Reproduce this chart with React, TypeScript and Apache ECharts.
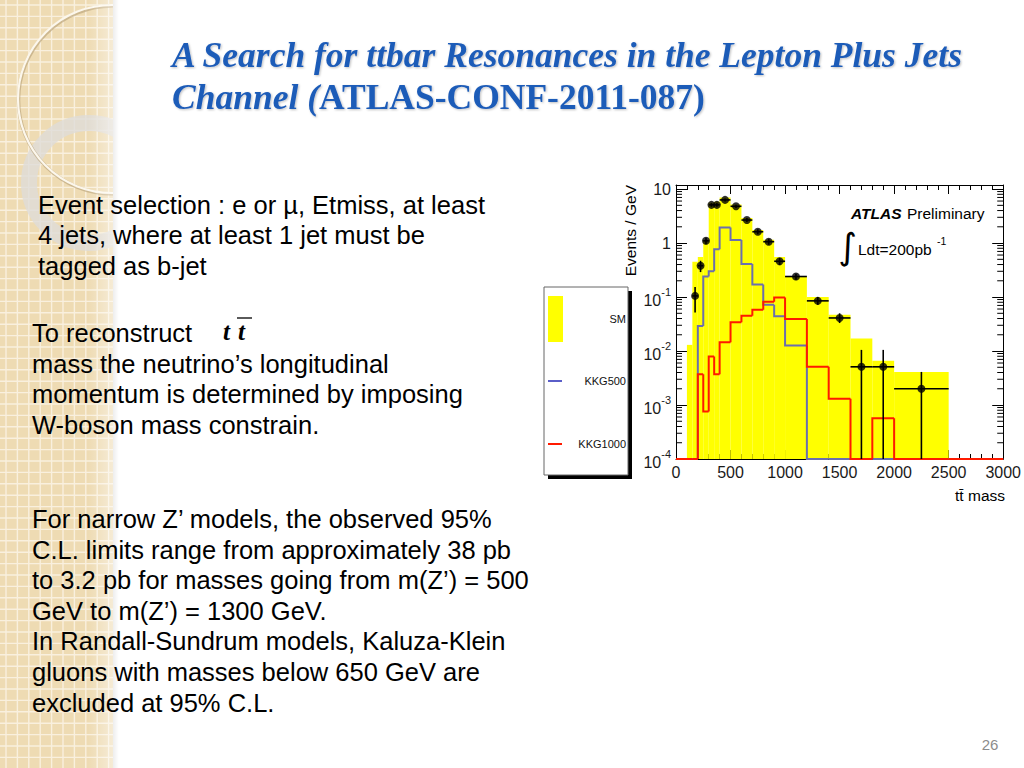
import React, { useEffect, useRef } from "react";
import * as echarts from "echarts";

// ---------------- data ----------------
const binEdges = [0, 100, 150, 200, 250, 300, 350, 400, 500, 600, 700, 800, 900, 1000, 1200, 1400, 1600, 1800, 2000, 2500, 3000];
const smValues = [0, 0.013, 0.45, 0.55, 1.15, 5.6, 5.8, 7.0, 5.2, 2.9, 1.75, 1.15, 0.55, 0.24, 0.1, 0.047, 0.017, 0.0066, 0.0041, 0];
const kkg500Values = [0, 0, 0, 0.029, 0.24, 0.3, 0.77, 1.95, 1.14, 0.41, 0.17, 0.072, 0.044, 0.0126, 0, 0, 0, 0, 0, 0];
const kkg1000Values = [0, 0, 0, 0.0037, 0.00076, 0.0079, 0.0037, 0.0145, 0.034, 0.045, 0.058, 0.082, 0.098, 0.039, 0.0051, 0.0013, 0, 0.00057, 0, 0];

const dataMass = [175, 225, 275, 325, 375, 450, 550, 650, 750, 850, 950, 1100, 1300, 1500, 1700, 1900, 2250];
const dataBinLow = [150, 200, 250, 300, 350, 400, 500, 600, 700, 800, 900, 1000, 1200, 1400, 1600, 1800, 2000];
const dataBinHigh = [200, 250, 300, 350, 400, 500, 600, 700, 800, 900, 1000, 1200, 1400, 1600, 1800, 2000, 2500];
const dataValues = [0.105, 0.38, 1.1, 5.1, 5.1, 6.3, 4.8, 2.67, 1.62, 1.06, 0.46, 0.24, 0.085, 0.041, 0.0051, 0.0051, 0.002];
const dataErrLow = [0.052, 0.29, 0.95, 4.7, 4.7, 5.9, 4.45, 2.45, 1.45, 0.93, 0.39, 0.21, 0.072, 0.033, 0, 0, 0];
const dataErrHigh = [0.153, 0.47, 1.25, 5.5, 5.5, 6.7, 5.15, 2.9, 1.8, 1.2, 0.53, 0.27, 0.1, 0.05, 0.0105, 0.0105, 0.0041];

const xMin = 0;
const xMax = 3000;
const xInterval = 500;
const yMin = 1e-4;
const yMax = 11.9;
const yDecades = [1e-4, 1e-3, 1e-2, 1e-1, 1];
const minorMultipliers = [2, 3, 4, 5, 6, 7, 8, 9];

const legendNames = ["SM", "KKG500", "KKG1000"];

const titleLine1 = "A Search for ttbar Resonances in the Lepton Plus Jets";
const titleLine2a = "Channel (";
const titleLine2b = "ATLAS-CONF-2011-087)";

const block1 = [
  "Event selection : e or µ, Etmiss, at least",
  "4 jets, where at least 1 jet must be",
  "tagged as b-jet",
];
const block2 = [
  "To reconstruct",
  "mass the neutrino’s longitudinal",
  "momentum is determined by imposing",
  "W-boson mass constrain.",
];
const block3 = [
  "For narrow Z’ models, the observed 95%",
  "C.L. limits range from approximately 38 pb",
  "to 3.2 pb for masses going from m(Z’) = 500",
  "GeV to m(Z’) = 1300 GeV.",
  "In Randall-Sundrum models, Kaluza-Klein",
  "gluons with masses below 650 GeV are",
  "excluded at 95% C.L.",
];

// ---------------- styling ----------------
const SANS = "Liberation Sans";
const SERIF = "Liberation Serif";
const YELLOW = "#ffff00";
const BLUE = "#6b6fae";
const RED = "#ff1a00";
const TITLE_BLUE = "#1f5cb8";

function stepData(values: number[]) {
  return values.map((v, i) => [
    binEdges[i],
    binEdges[i + 1],
    Math.max(v, yMin),
    Math.max(i > 0 ? values[i - 1] : 0, yMin),
  ]);
}

function stepSeries(name: string, values: number[], color: string, z: number) {
  return {
    name,
    type: "custom",
    clip: false,
    z,
    silent: true,
    dimensions: ["x0", "x1", "v", "pv"],
    encode: { x: [0, 1], y: [2, 3] },
    data: stepData(values),
    renderItem: (_p: any, api: any) => {
      const x0 = api.value(0);
      const x1 = api.value(1);
      const v = api.value(2);
      const pv = api.value(3);
      const a = api.coord([x0, pv]);
      const b = api.coord([x0, v]);
      const c = api.coord([x1, v]);
      return {
        type: "polyline",
        shape: { points: [a, b, c] },
        style: { stroke: color, lineWidth: 2, fill: null },
      };
    },
  };
}

function yLabel(v: number) {
  const lg = Math.log10(v);
  const e = Math.round(lg);
  if (Math.abs(lg - e) > 1e-6) return "";
  if (e === 0) return "1";
  if (e === 1) return "10";
  return "{b|10}{s|" + e + "}";
}

function buildOption() {
  const minorTicks: number[][] = [];
  yDecades.forEach((d) => minorMultipliers.forEach((m) => minorTicks.push([0, m * d])));

  const axisText = { fontSize: 16, color: "#1a1a1a", fontFamily: SANS };

  const text = (t: string, x: number, y: number, extra: any = {}) => ({
    type: "text",
    x,
    y,
    style: {
      text: t,
      fill: "#000",
      font: `25.5px "${SANS}"`,
      textAlign: "left",
      textVerticalAlign: "middle",
      ...extra,
    },
  });

  const shadow = { textShadowColor: "rgba(0,0,0,0.25)", textShadowBlur: 2, textShadowOffsetX: 1, textShadowOffsetY: 1 };

  const graphics: any[] = [];
  // Title
  graphics.push({
    type: "text",
    x: 172,
    y: 55,
    style: {
      text: titleLine1,
      fill: TITLE_BLUE,
      font: `italic bold 35.5px "${SERIF}"`,
      textVerticalAlign: "middle",
      ...shadow,
    },
  });
  graphics.push({
    type: "text",
    x: 172,
    y: 97,
    style: {
      text: `{i|${titleLine2a}}{b|${titleLine2b}}`,
      fill: TITLE_BLUE,
      textVerticalAlign: "middle",
      rich: {
        i: { font: `italic bold 35.5px "${SERIF}"`, fill: TITLE_BLUE, ...shadow },
        b: { font: `bold 35.5px "${SERIF}"`, fill: TITLE_BLUE, ...shadow },
      },
    },
  });
  // body text
  const b1y = [205, 235, 266];
  block1.forEach((t, i) => graphics.push(text(t, 38, b1y[i])));
  const b2y = [333, 364, 394, 425];
  block2.forEach((t, i) => graphics.push(text(t, 32, b2y[i])));
  const b3y = [519, 550, 580, 611, 641, 672, 703];
  block3.forEach((t, i) => graphics.push(text(t, 32, b3y[i])));
  // t tbar formula
  graphics.push(text("t", 223, 331, { font: `italic bold 25px "${SERIF}"` }));
  graphics.push(text("t", 238, 331, { font: `italic bold 25px "${SERIF}"` }));
  graphics.push({ type: "line", shape: { x1: 237, y1: 318, x2: 252, y2: 318 }, style: { stroke: "#000", lineWidth: 1.3 } });
  // page number
  graphics.push(text("26", 990, 744, { fill: "#8c8c8c", font: `15px "${SANS}"`, textAlign: "center" }));

  // legend box (ROOT style)
  graphics.push({ type: "rect", shape: { x: 548, y: 291, width: 84, height: 188 }, style: { fill: "#000" } });
  graphics.push({ type: "rect", shape: { x: 544, y: 287, width: 84, height: 188 }, style: { fill: "#fff", stroke: "#666", lineWidth: 1 } });
  graphics.push({ type: "rect", shape: { x: 548, y: 296, width: 15, height: 46 }, style: { fill: YELLOW } });
  graphics.push({ type: "line", shape: { x1: 548, y1: 381, x2: 562, y2: 381 }, style: { stroke: "#5a5ec8", lineWidth: 2 } });
  graphics.push({ type: "line", shape: { x1: 548, y1: 444, x2: 562, y2: 444 }, style: { stroke: RED, lineWidth: 2 } });
  const legY = [319, 381, 444];
  legendNames.forEach((n, i) =>
    graphics.push(text(n, 626, legY[i], { font: `11px "${SANS}"`, textAlign: "right", fill: "#111" }))
  );

  // ATLAS label
  graphics.push(text("ATLAS", 851, 213, { font: `italic bold 15.5px "${SANS}"` }));
  graphics.push(text("Preliminary", 907, 213, { font: `15.5px "${SANS}"` }));
  graphics.push(text("∫", 857, 246, { font: `36px "DejaVu Sans"`, textAlign: "right" }));
  graphics.push(text("Ldt=200pb", 858, 249, { font: `15.5px "${SANS}"` }));
  graphics.push(text("-1", 937, 241, { font: `10.5px "${SANS}"` }));

  // axis titles
  graphics.push(text("tt\u0304 mass", 1005, 495, { font: `15.5px "${SANS}"`, textAlign: "right" }));
  graphics.push({
    type: "text",
    x: 630,
    y: 185,
    rotation: Math.PI / 2,
    style: { text: "Events / GeV", fill: "#000", font: `15.5px "${SANS}"`, textAlign: "right", textVerticalAlign: "middle" },
  });

  const xAxisBase = {
    type: "value",
    min: xMin,
    max: xMax,
    interval: xInterval,
    axisLine: { onZero: false, lineStyle: { color: "#000", width: 1 } },
    axisTick: { inside: true, length: 9, lineStyle: { color: "#000" } },
    minorTick: { show: true, splitNumber: 5, length: 5, lineStyle: { color: "#000" } },
    splitLine: { show: false },
  };
  const yAxisBase = {
    type: "log",
    logBase: 10,
    min: yMin,
    max: yMax,
    axisLine: { onZero: false, lineStyle: { color: "#000", width: 1 } },
    axisTick: { inside: true, length: 11, lineStyle: { color: "#000" } },
    splitLine: { show: false },
  };

  return {
    animation: false,
    backgroundColor: "transparent",
    grid: { left: 676, top: 185, width: 328, height: 274, containLabel: false },
    xAxis: [
      { ...xAxisBase, position: "bottom", axisLabel: { ...axisText, margin: 5, formatter: (v: number) => String(v) } },
      { ...xAxisBase, position: "top", axisLabel: { show: false } },
    ],
    yAxis: [
      {
        ...yAxisBase,
        position: "left",
        axisLabel: {
          ...axisText,
          margin: 5,
          showMaxLabel: false,
          formatter: yLabel,
          rich: {
            b: { fontSize: 16, fontFamily: SANS, color: "#1a1a1a", verticalAlign: "bottom", lineHeight: 22 },
            s: { fontSize: 11, fontFamily: SANS, color: "#1a1a1a", verticalAlign: "top", lineHeight: 12 },
          },
        },
      },
      { ...yAxisBase, position: "right", axisLabel: { show: false } },
    ],
    graphic: graphics,
    series: [
      {
        name: legendNames[0],
        type: "custom",
        z: 2,
        silent: true,
        dimensions: ["x0", "x1", "v"],
        encode: { x: [0, 1], y: [2] },
        data: smValues.map((v, i) => [binEdges[i], binEdges[i + 1], Math.max(v, yMin)]),
        renderItem: (_p: any, api: any) => {
          const p0 = api.coord([api.value(0), api.value(2)]);
          const p1 = api.coord([api.value(1), yMin]);
          return {
            type: "rect",
            shape: { x: p0[0], y: p0[1], width: p1[0] - p0[0], height: p1[1] - p0[1] },
            style: { fill: YELLOW },
          };
        },
      },
      stepSeries(legendNames[1], kkg500Values, BLUE, 3),
      stepSeries(legendNames[2], kkg1000Values, RED, 4),
      {
        name: "minor ticks",
        type: "custom",
        z: 5,
        silent: true,
        clip: false,
        encode: { x: 0, y: 1 },
        data: minorTicks,
        renderItem: (_p: any, api: any) => {
          const v = api.value(1);
          const l = api.coord([xMin, v]);
          const r = api.coord([xMax, v]);
          return {
            type: "group",
            children: [
              { type: "line", shape: { x1: l[0], y1: l[1], x2: l[0] + 6, y2: l[1] }, style: { stroke: "#000", lineWidth: 1 } },
              { type: "line", shape: { x1: r[0] - 6, y1: r[1], x2: r[0], y2: r[1] }, style: { stroke: "#000", lineWidth: 1 } },
            ],
          };
        },
      },
      {
        name: "Data errors",
        type: "custom",
        z: 6,
        silent: true,
        clip: false,
        dimensions: ["x", "lo", "hi", "xl", "xh", "v"],
        encode: { x: [0, 3, 4], y: [1, 2, 5] },
        data: dataMass.map((m, i) => [
          m,
          Math.max(dataErrLow[i], yMin),
          dataErrHigh[i],
          dataBinLow[i],
          dataBinHigh[i],
          dataValues[i],
        ]),
        renderItem: (_p: any, api: any) => {
          const a = api.coord([api.value(0), api.value(1)]);
          const b = api.coord([api.value(0), api.value(2)]);
          const c = api.coord([api.value(3), api.value(5)]);
          const d = api.coord([api.value(4), api.value(5)]);
          return {
            type: "group",
            children: [
              { type: "line", shape: { x1: a[0], y1: a[1], x2: b[0], y2: b[1] }, style: { stroke: "#000", lineWidth: 1.6 } },
              { type: "line", shape: { x1: c[0], y1: c[1], x2: d[0], y2: d[1] }, style: { stroke: "#000", lineWidth: 1.6 } },
            ],
          };
        },
      },
      {
        name: "Data",
        type: "scatter",
        z: 7,
        silent: true,
        symbol: "circle",
        symbolSize: 8,
        itemStyle: { color: "#000" },
        data: dataMass.map((m, i) => [m, dataValues[i]]),
      },
    ],
  };
}

function Background() {
  const vLines: number[] = [];
  for (let k = 0; k < 11; k++) vLines.push(6 + k * 11.4);
  const hLines: number[] = [];
  for (let k = 0; k < 68; k++) hLines.push(5 + k * 11.4);
  return (
    <svg width={1024} height={768} style={{ position: "absolute", left: 0, top: 0 }}>
      <defs>
        <clipPath id="leftPanel">
          <rect x={0} y={0} width={113} height={768} />
        </clipPath>
        <linearGradient id="fadeEdge" x1="0" x2="1" y1="0" y2="0">
          <stop offset="0" stopColor="#ffffff" stopOpacity={0} />
          <stop offset="1" stopColor="#ffffff" stopOpacity={0.45} />
        </linearGradient>
        <linearGradient id="edgeShadow" x1="0" x2="1" y1="0" y2="0">
          <stop offset="0" stopColor="#000000" stopOpacity={0.07} />
          <stop offset="1" stopColor="#000000" stopOpacity={0} />
        </linearGradient>
      </defs>
      <rect x={0} y={0} width={1024} height={768} fill="#ffffff" />
      <g clipPath="url(#leftPanel)">
        <rect x={0} y={0} width={113} height={768} fill="#eedbb3" />
        {vLines.map((x, i) => (
          <line key={"v" + i} x1={x} y1={0} x2={x} y2={768} stroke="#f9f0de" strokeWidth={1.4} />
        ))}
        {hLines.map((y, i) => (
          <line key={"h" + i} x1={0} y1={y} x2={113} y2={y} stroke="#f9f0de" strokeWidth={1.4} />
        ))}
        <circle cx={89} cy={183} r={60} fill="none" stroke="#dedcd8" strokeOpacity={0.8} strokeWidth={16} />
        <circle cx={112.5} cy={100} r={94} fill="none" stroke="#b59f75" strokeOpacity={0.6} strokeWidth={3.5} />
        <circle cx={112} cy={99} r={94} fill="none" stroke="#fcf7ec" strokeWidth={2.2} />
        <rect x={88} y={0} width={25} height={768} fill="url(#fadeEdge)" />
      </g>
      <rect x={113} y={0} width={6} height={768} fill="url(#edgeShadow)" />
    </svg>
  );
}

export default function App() {
  const ref = useRef<HTMLDivElement>(null);
  useEffect(() => {
    if (!ref.current) return;
    const chart = echarts.init(ref.current, undefined, { renderer: "svg" });
    chart.setOption(buildOption() as any);
    return () => chart.dispose();
  }, []);
  return (
    <div style={{ position: "absolute", left: 0, top: 0, width: 1024, height: 768, overflow: "hidden", background: "#fff" }}>
      <Background />
      <div ref={ref} style={{ position: "absolute", left: 0, top: 0, width: 1024, height: 768 }} />
    </div>
  );
}
